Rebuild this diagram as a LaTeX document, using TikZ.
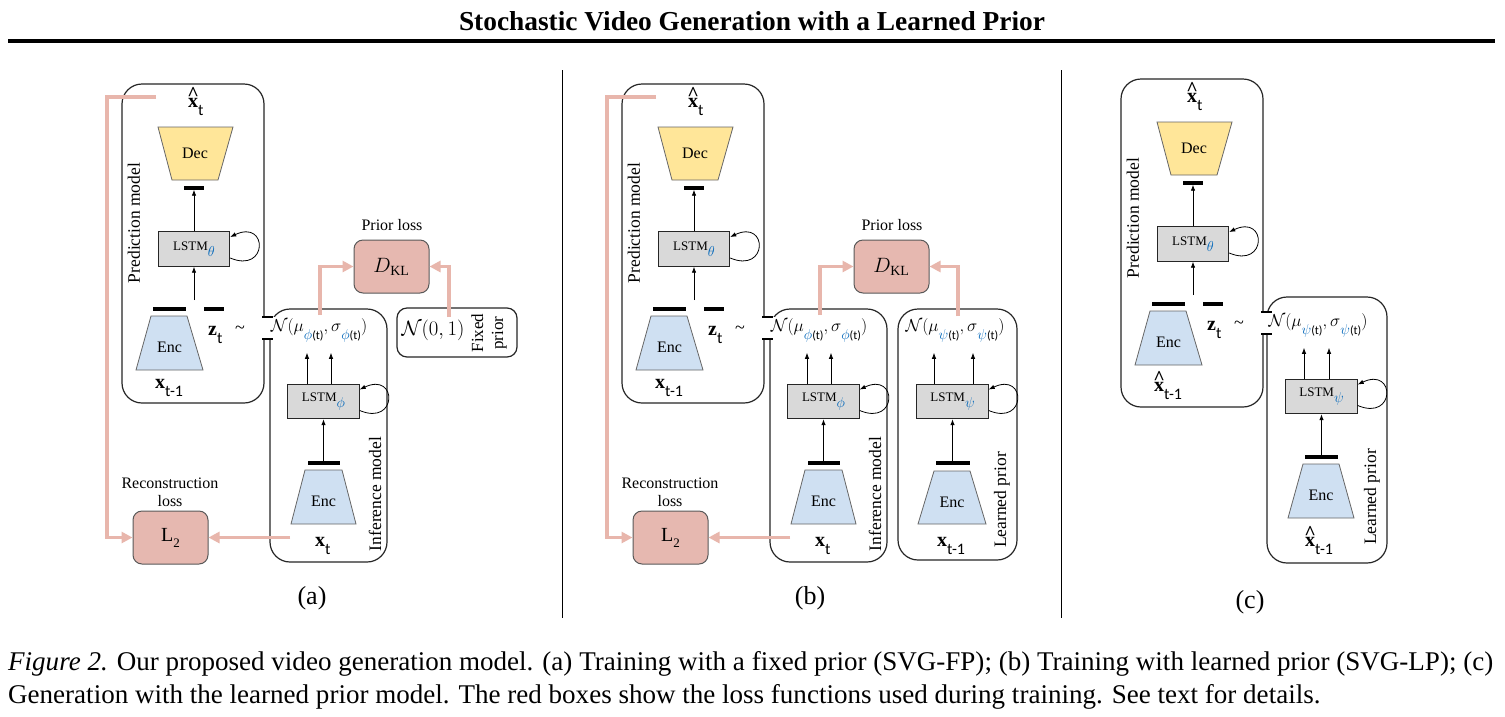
\documentclass[tikz,border=0pt]{standalone}
\usepackage{fontspec}
\setmainfont{Liberation Serif}
\setsansfont{Carlito}
\usetikzlibrary{arrows.meta}
\definecolor{decyellow}{RGB}{255,230,153}
\definecolor{encblue}{RGB}{207,224,242}
\definecolor{lstmgray}{RGB}{217,217,217}
\definecolor{losspink}{RGB}{230,184,176}
\definecolor{pinkline}{RGB}{232,182,172}
\definecolor{subblue}{RGB}{0,102,186}
\newcommand\fsz[1]{\fontsize{#1}{#1}\selectfont}
\newcommand\fszb[2]{\fontsize{#1}{#2}\selectfont}
\newcommand\subt[1]{\raisebox{-0.42em}{\sffamily\fsz{16}#1}}
\newcommand\hatx{\ooalign{\textbf{x}\cr\hidewidth\raisebox{0.32em}{\textbf{\textasciicircum}}\hidewidth\cr}}
\newcommand\lstmlbl[1]{LSTM\raisebox{-0.45em}{\fsz{14}$\textcolor{subblue}{#1}$}}
\newcommand\msub[1]{\raisebox{-0.42em}{\fsz{14}$\textcolor{subblue}{#1}$\sffamily\fsz{12}(t)}}
\newcommand\Ndist[1]{$\mathcal{N}(\mu$\msub{#1}$,\sigma$\msub{#1}$)$}
\newcommand\selfloop[1]{\draw[arr] ([yshift=-9pt]#1.east) .. controls +(38,16) and +(38,-18) .. ([yshift=12pt]#1.east);}
\newlength\capw
\newcommand\capone{\fsz{25}\textit{Figure 2.} Our proposed video generation model. (a) Training with a fixed prior (SVG-FP); (b) Training with learned prior (SVG-LP); (c)}
\newcommand\captwo{\fsz{25}Generation with the learned prior model. The red boxes show the loss functions used during training. See text for details.}
\tikzset{
  pboxst/.style={draw=black!85, line width=1.2pt, rounded corners=20pt},
  fpbox/.style={draw=black!85, line width=1.2pt, rounded corners=10pt},
  decst/.style={draw=black!60, line width=0.8pt, fill=decyellow},
  encst/.style={draw=black!60, line width=0.8pt, fill=encblue},
  lstm/.style={draw=black!85, line width=0.9pt, fill=lstmgray, minimum width=71.5pt, minimum height=34.5pt, inner sep=0pt, font=\fsz{13}},
  loss/.style={draw=black!65, line width=1pt, fill=losspink, rounded corners=9pt, minimum width=75pt, minimum height=53pt, inner sep=0pt, font=\fsz{20}},
  bar/.style={fill=black, inner sep=0pt, minimum height=4pt},
  arr/.style={line width=0.8pt, -{Latex[length=6pt,width=4.5pt]}},
  pinkarr/.style={draw=pinkline, line width=3.3pt, -{Triangle[length=11pt,width=11pt]}},
  lbl/.style={anchor=base west, inner sep=0pt, font=\fsz{20}},
  txt/.style={inner sep=0pt, font=\fsz{16}},
  enctxt/.style={inner sep=0pt, font=\fsz{16}},
  rotlbl/.style={rotate=90, inner sep=0pt, font=\fsz{17.5}},
  mathn/.style={inner sep=0pt, font=\fsz{19}},
}
% prediction model block, local coordinates of panel (a)
\newcommand\predpart[3]{%
  \draw[pboxst] (122,84) rectangle (264,#2);
  \node[lbl] (xh) at (188,107) {\hatx\subt{t}};
  \draw[decst] (158,127) -- (233,127) -- (218,180) -- (172,180) -- cycle;
  \node[enctxt] (decl) at (195,153) {Dec};
  \node[bar, minimum width=20pt] (decbar) at (194,187.5) {};
  \node[lstm] (lstmT) at (194,249) {\lstmlbl{\theta}};
  \draw[arr] (lstmT.north) -- (decbar.south);
  \selfloop{lstmT}
  \coordinate (zin) at (194,300);
  \draw[arr] (zin) -- (lstmT.south);
  \node[bar, minimum width=33pt] (encbar) at (169.5,309) {};
  \node[bar, minimum width=20pt] (zbar) at (214,309) {};
  \draw[encst] (151,316) -- (187,316) -- (203,370) -- (136,370) -- cycle;
  \node[enctxt] (encT) at (169.5,347) {Enc};
  \node[lbl] (xin) at (155,#3) {#1};
  \node[lbl] (zt) at (208,335) {\textbf{z}\subt{t}};
  \node[inner sep=0pt, font=\fsz{18}] (tilde) at (240,330) {\textasciitilde};
  \node[rotlbl] (predlbl) at (134,223) {Prediction model};
}
% inference model block, local coordinates of panel (a)
\newcommand\infpart{%
  \draw[pboxst] (270,309) rectangle (387,562);
  \node[lstm] (lstmI) at (323.5,401.5) {\lstmlbl{\phi}};
  \draw[arr] ([xshift=-16.5pt]lstmI.north) -- ++(0,-31);
  \draw[arr] ([xshift=7.5pt]lstmI.north) -- ++(0,-31);
  \selfloop{lstmI}
  \node[bar, minimum width=32pt] (barI) at (323.5,463) {};
  \draw[arr] (barI.north) -- (lstmI.south);
  \draw[encst] (305,470) -- (342,470) -- (356,524) -- (291,524) -- cycle;
  \node[enctxt] (encI) at (323.5,501) {Enc};
  \node[lbl] (xtI) at (315,546) {\textbf{x}\subt{t}};
  \node[rotlbl] (inflbl) at (375,494) {Inference model};
}
% channel between the two blocks and the distribution
\newcommand\channel[1]{%
  \fill[white] (260.5,317) rectangle (274.5,339);
  \draw[line width=1.1pt] (262,317) -- (273,317);
  \draw[line width=1.1pt] (262,339) -- (273,339);
  \node[mathn] (Nq) at (319,330) {\Ndist{#1}};
}
% losses of panels (a) and (b)
\newcommand\losspart{%
  \node[loss] (DKL) at (391.5,266.5) {$D_{\mathrm{KL}}$};
  \node[txt] (priorloss) at (392,225) {Prior loss};
  \node[loss] (L2) at (170.5,537.5) {L\raisebox{-0.3em}{\fsz{13}2}};
  \node[txt, align=center, font=\fszb{16}{18}] (recloss) at (170,492) {Reconstruction\\loss};
  \coordinate (xhp) at (156,97);
  \draw[pinkarr] (xhp) -- ++(-49,0) |- (L2.west);
  \coordinate (xtp) at (290,537.5);
  \draw[pinkarr] (xtp) -- (L2.east);
  \coordinate (nqp) at (320,315);
  \draw[pinkarr] (nqp) |- (DKL.west);
}
\begin{document}
\settowidth{\capw}{\capone}%
\pgfmathsetmacro\capfac{1485pt/\capw}%
\begin{tikzpicture}[x=1pt,y=-1pt]
\useasboundingbox (0,0) rectangle (1505,716);
\fill[white] (0,0) rectangle (1505,716);
% title
\node[font=\bfseries\fsz{30}, inner sep=0pt] (title) at (752,21) {\resizebox{586pt}{!}{Stochastic Video Generation with a Learned Prior}};
\draw[line width=3.5pt] (8,41) -- (1495,41);
% separators
\draw[line width=1pt] (562,70) -- (562,618);
\draw[line width=1pt] (1061,70) -- (1061,618);

% ---------- panel (a)
\begin{scope}[name prefix=a-]
  \predpart{\textbf{x}\subt{t-1}}{403}{388}
  \infpart
  \channel{\phi}
  \losspart
  \draw[fpbox] (397,308) rectangle (517,357);
  \node[mathn, font=\fsz{20}] (N01) at (433,330) {$\mathcal{N}(0,1)$};
  \node[rotate=90, inner sep=0pt, align=center, font=\fszb{17}{20}] (fixlbl) at (489,333) {Fixed\\prior};
  \coordinate (fpp) at (449,317);
  \draw[pinkarr] (fpp) |- (DKL.east);
  \node[font=\fsz{26}, inner sep=0pt] (capa) at (312,598) {(a)};
\end{scope}

% ---------- panel (b)
\begin{scope}[xshift=500pt, name prefix=b-]
  \predpart{\textbf{x}\subt{t-1}}{403}{388}
  \infpart
  \channel{\phi}
  \losspart
  \node[font=\fsz{26}, inner sep=0pt] (capb) at (310,598) {(b)};
\end{scope}
% learned prior of (b)
\begin{scope}[name prefix=bl-]
  \draw[pboxst] (898,309) rectangle (1017,560);
  \node[mathn] (Np) at (955,330) {\Ndist{\psi}};
  \node[lstm] (lstmP) at (952.5,401.5) {\lstmlbl{\psi}};
  \draw[arr] ([xshift=-18.5pt]lstmP.north) -- ++(0,-31);
  \draw[arr] ([xshift=20.5pt]lstmP.north) -- ++(0,-31);
  \selfloop{lstmP}
  \node[bar, minimum width=34pt] (barP) at (952.5,463) {};
  \draw[arr] (barP.north) -- (lstmP.south);
  \draw[encst] (934,471) -- (970,471) -- (986,524) -- (918,524) -- cycle;
  \node[enctxt] (encP) at (952,502) {Enc};
  \node[lbl] (xP) at (937,546) {\textbf{x}\subt{t-1}};
  \node[rotlbl] (lplbl) at (1002,500) {Learned prior};
  \coordinate (npp) at (958,316);
  \draw[pinkarr] (npp) |- (b-DKL.east);
\end{scope}

% ---------- panel (c)
\begin{scope}[name prefix=cl-]
  \draw[pboxst] (1267,297) rectangle (1387,563);
  \node[lstm] (lstmP) at (1321.5,396.5) {\lstmlbl{\psi}};
  \draw[arr] ([xshift=-17.5pt]lstmP.north) -- ++(0,-31);
  \draw[arr] ([xshift=7.5pt]lstmP.north) -- ++(0,-31);
  \selfloop{lstmP}
  \node[bar, minimum width=33pt] (barP) at (1321.5,457) {};
  \draw[arr] (barP.north) -- (lstmP.south);
  \draw[encst] (1303,464) -- (1339,464) -- (1354,518) -- (1288,518) -- cycle;
  \node[enctxt] (encP) at (1321,495) {Enc};
  \node[lbl] (xP) at (1305,546) {\hatx\subt{t-1}};
  \node[rotlbl] (lplbl) at (1372,497) {Learned prior};
\end{scope}
\begin{scope}[xshift=999pt, yshift=5pt, name prefix=c-]
  \predpart{\hatx\subt{t-1}}{412}{396}
  \channel{\psi}
\end{scope}
\node[font=\fsz{26}, inner sep=0pt] (capc) at (1250,602) {(c)};

% caption
\node[anchor=base west, inner sep=0pt] (cap1) at (8,670) {\scalebox{\capfac}{\capone}};
\node[anchor=base west, inner sep=0pt] (cap2) at (8,703) {\scalebox{\capfac}{\captwo}};
\end{tikzpicture}
\end{document}
